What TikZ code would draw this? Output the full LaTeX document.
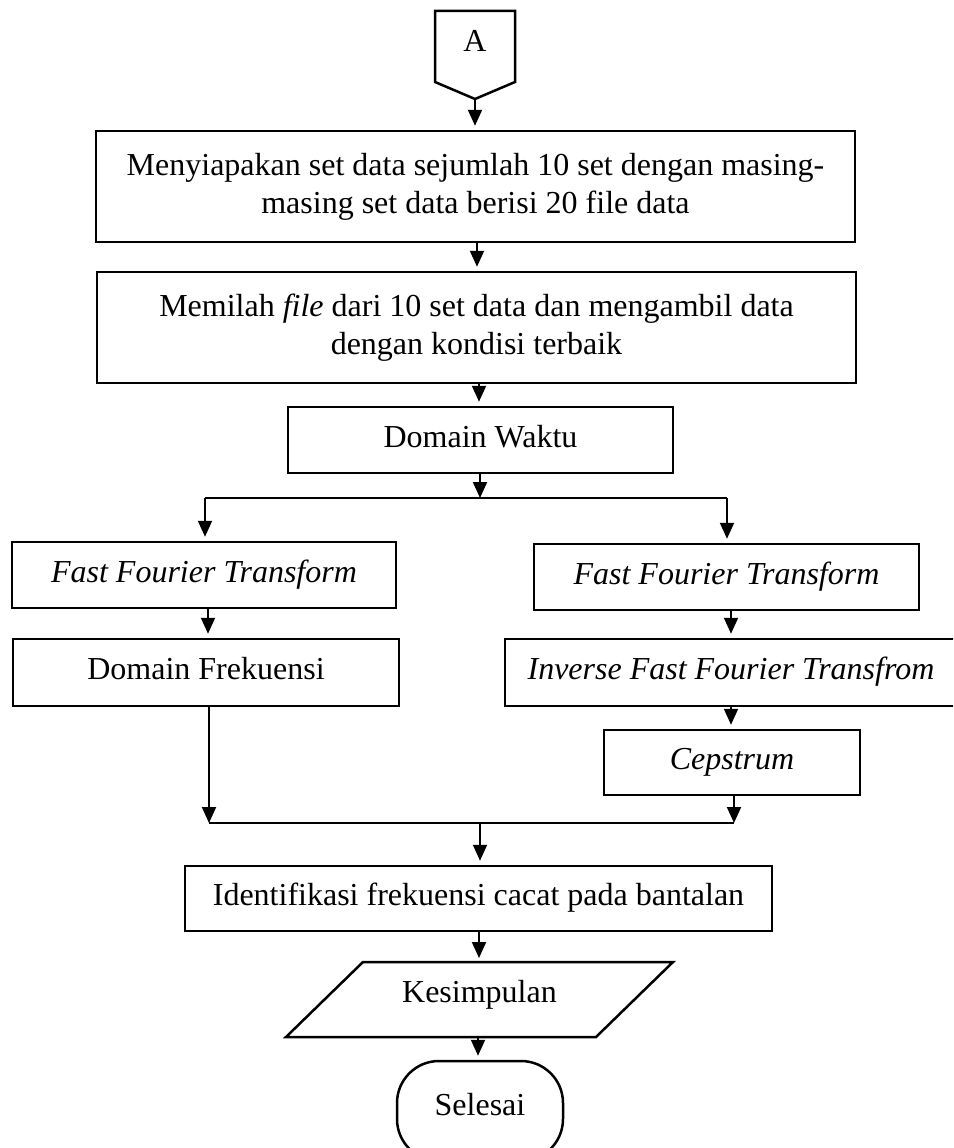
\documentclass[tikz,border=0pt]{standalone}
\usepackage{fontspec}
\setmainfont{Liberation Serif}
\usetikzlibrary{arrows.meta,calc}
\begin{document}
\begin{tikzpicture}[x=1pt,y=-1pt,
  every node/.style={font=\fontsize{32}{38}\selectfont},
  box/.style={draw, line width=2.5pt, inner sep=0pt, align=center,
    text height=22pt, text depth=8pt},
  bigbox/.style={draw, line width=2.5pt, inner sep=0pt, align=center},
  plain/.style={inner sep=0pt, text height=22pt, text depth=8pt},
  outline/.style={line width=2.5pt, line join=miter},
  arr/.style={line width=2pt, -{Triangle[length=16pt,width=14pt]}, shorten >=4pt},
  arrz/.style={line width=2pt, -{Triangle[length=16pt,width=14pt]}},
  joinline/.style={line width=1.5pt}]
\useasboundingbox (0,0) rectangle (953,1148);
\fill[white] (0,0) rectangle (953,1148);
\clip (0,0) rectangle (953,1148);

% off-page connector A
\draw[outline] (435,11) -- (515,11) -- (515,82) -- (475,99) -- (435,82) -- cycle;
\node[plain] (A) at (475,45) {A};
\coordinate (Ap) at (475,99);

\node[bigbox, minimum width=759pt, minimum height=111pt] (b1) at (475.5,186.5)
  {Menyiapakan set data sejumlah 10 set dengan masing-\\masing set data berisi 20 file data};
\node[bigbox, minimum width=759pt, minimum height=111pt] (b2) at (476.5,327.5)
  {Memilah \textit{file} dari 10 set data dan mengambil data\\dengan kondisi terbaik};
\node[box, minimum width=385pt, minimum height=66pt] (dw) at (480.5,440) {Domain Waktu};

\coordinate (br) at (480,498);
\coordinate (brL) at (205,498);
\coordinate (brR) at (727,498);

\node[box, minimum width=384pt, minimum height=66pt] (fft1) at (204,575) {\textit{Fast Fourier Transform}};
\node[box, minimum width=385pt, minimum height=66pt] (fft2) at (726.5,577) {\textit{Fast Fourier Transform}};
\node[box, minimum width=386pt, minimum height=67pt] (df) at (206,672.5) {Domain Frekuensi};
\node[box, minimum width=452pt, minimum height=67pt] (ifft) at (731,672.5) {\textit{Inverse Fast Fourier Transfrom}};
\node[box, minimum width=256pt, minimum height=65pt] (cep) at (732,762.5) {\textit{Cepstrum}};

\coordinate (mL) at (209,823);
\coordinate (mR) at (734,823);
\coordinate (mC) at (480,823);

\node[box, minimum width=587pt, minimum height=65pt] (iden) at (478.5,898.5) {Identifikasi frekuensi cacat pada bantalan};

% Kesimpulan (parallelogram)
\draw[outline] (363,962) -- (673,962) -- (596,1037) -- (286,1037) -- cycle;
\node[plain] (kes) at (479.5,995) {Kesimpulan};
\coordinate (kesT) at (479,962);
\coordinate (kesB) at (478,1037);

\node[draw, line width=2.5pt, rounded corners=42pt, minimum width=166pt, minimum height=100pt,
  inner sep=0pt, text height=22pt, text depth=14pt] (sel) at (480,1111) {Selesai};

% connectors
\draw[arr] (Ap) -- (Ap |- b1.north);
\draw[arr] (b1.south -| 477,0) -- (b2.north -| 477,0);
\draw[arr] (b2.south -| 479,0) -- (dw.north -| 479,0);
\draw[arrz] (dw.south -| br) -- (br);
\draw[joinline] (brL) -- (brR);
\draw[arr] (brL) -- (brL |- fft1.north);
\draw[arr] (brR) -- (brR |- fft2.north);
\draw[arr] (fft1.south -| 208,0) -- (df.north -| 208,0);
\draw[arr] (fft2.south -| 731,0) -- (ifft.north -| 731,0);
\draw[arr] (ifft.south -| 731,0) -- (cep.north -| 731,0);
\draw[arrz] (df.south -| mL) -- (mL);
\draw[arrz] (cep.south -| mR) -- (mR);
\draw[joinline] (mL) -- (mR);
\draw[arr] (mC) -- (mC |- iden.north);
\draw[arr] (iden.south -| kesT) -- (kesT);
\draw[arr] (kesB) -- (kesB |- sel.north);
\end{tikzpicture}
\end{document}
